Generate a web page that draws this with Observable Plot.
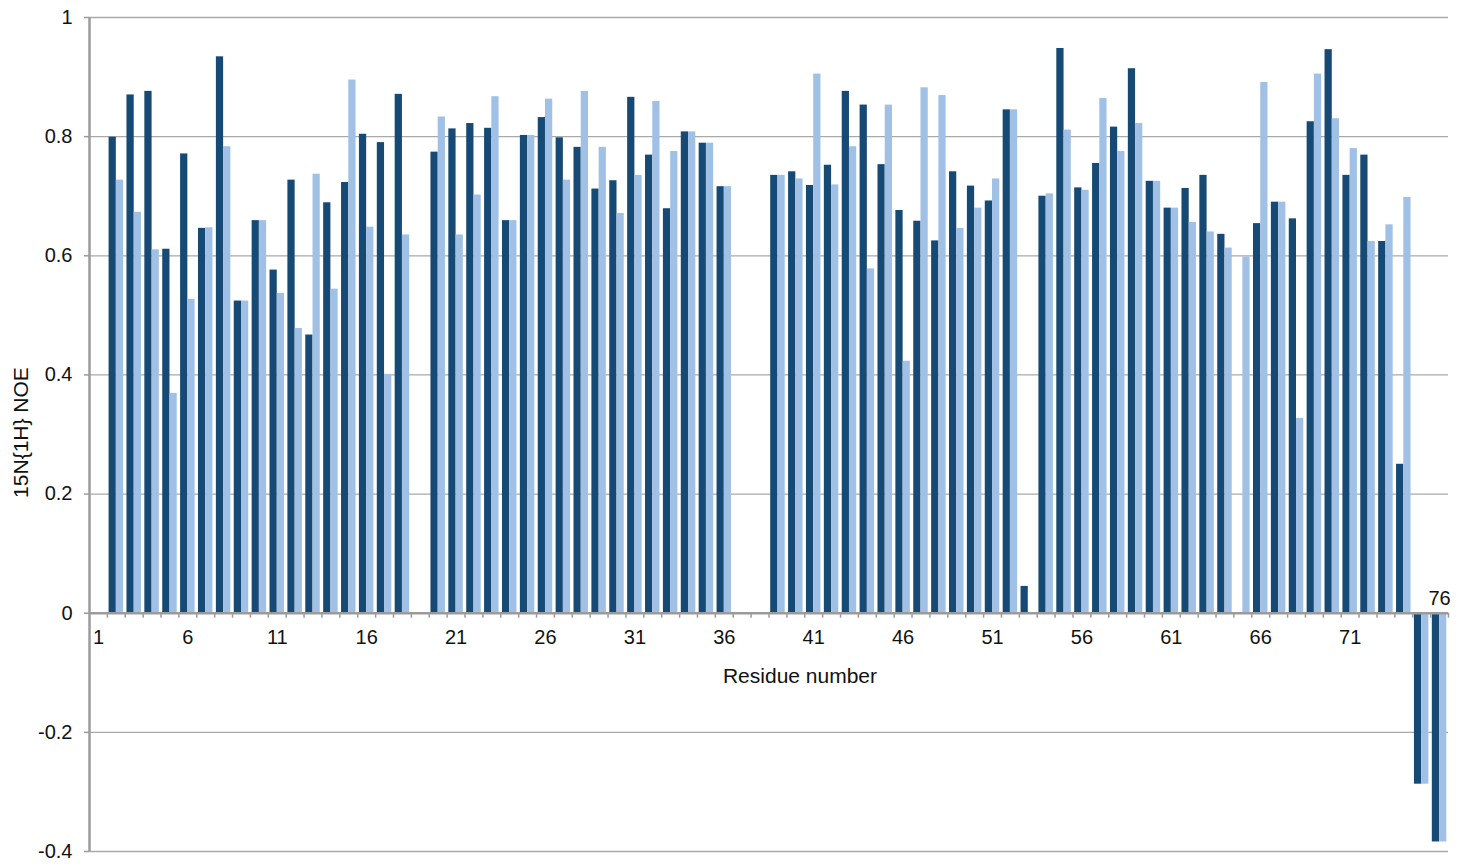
<!DOCTYPE html>
<html>
<head>
<meta charset="utf-8">
<script src="https://cdn.jsdelivr.net/npm/d3@7"></script>
<script src="https://cdn.jsdelivr.net/npm/@observablehq/plot@0.6"></script>
<style>
  html, body { margin: 0; padding: 0; background: #fff; }
  #chart svg { display: block; }
</style>
</head>
<body>
<div id="chart"></div>
<script>
// Residue numbers 1–76
const residues = Array.from({length: 76}, (_, i) => i + 1);

// Heteronuclear NOE, first data set (dark bars); null = not measured
const noeDark = [
  null, 0.799, 0.870, 0.876, 0.611, 0.771, 0.646, 0.934, 0.524, 0.659,
  0.576, 0.727, 0.467, 0.689, 0.723, 0.804, 0.790, 0.871, null, 0.774,
  0.813, 0.822, 0.814, 0.659, 0.802, 0.832, 0.798, 0.782, 0.712, 0.726,
  0.866, 0.769, 0.679, 0.808, 0.789, 0.716, null, null, 0.735, 0.741,
  0.718, 0.752, 0.876, 0.853, 0.753, 0.676, 0.658, 0.625, 0.741, 0.717,
  0.692, 0.845, 0.045, 0.700, 0.948, 0.714, 0.755, 0.816, 0.914, 0.725,
  0.680, 0.713, 0.735, 0.636, null, 0.654, 0.690, 0.662, 0.825, 0.946,
  0.735, 0.769, 0.624, 0.250, -0.287, -0.384
];

// Heteronuclear NOE, second data set (light bars)
const noeLight = [
  null, 0.727, 0.673, 0.610, 0.369, 0.527, 0.647, 0.783, 0.524, 0.659,
  0.537, 0.478, 0.737, 0.544, 0.895, 0.648, 0.401, 0.635, null, 0.833,
  0.635, 0.702, 0.867, 0.659, 0.802, 0.863, 0.727, 0.876, 0.782, 0.671,
  0.735, 0.859, 0.775, 0.808, 0.789, 0.716, null, null, 0.735, 0.729,
  0.905, 0.719, 0.783, 0.578, 0.853, 0.423, 0.882, 0.869, 0.646, 0.680,
  0.729, 0.845, null, 0.704, 0.811, 0.710, 0.864, 0.775, 0.822, 0.725,
  0.680, 0.656, 0.640, 0.613, 0.598, 0.891, 0.690, 0.327, 0.905, 0.830,
  0.780, 0.624, 0.652, 0.698, -0.287, -0.384
];

// Axis ticks and labels
const yTicks = [-0.4, -0.2, 0, 0.2, 0.4, 0.6, 0.8, 1];
const xLabelsBelow = [1, 6, 11, 16, 21, 26, 31, 36, 41, 46, 51, 56, 61, 66, 71];
const xLabelsAbove = [76];
const xTitle = "Residue number";
const yTitle = "15N{1H} NOE";

const colorDark = "#164a74";
const colorLight = "#a0c1e5";
const gridColor = "#a9a9a9";
const axisColor = "#9b9b9b";

const width = 1469, height = 868;
const marginLeft = 89, marginRight = 21, marginTop = 17, marginBottom = 17;
const padInner = 0.19;
const step = (width - marginLeft - marginRight) / residues.length;
const half = step * (1 - padInner) / 2;

const darkRows = residues.map((r, i) => ({res: r, v: noeDark[i]})).filter(d => d.v != null);
const lightRows = residues.map((r, i) => ({res: r, v: noeLight[i]})).filter(d => d.v != null);

const chart = Plot.plot({
  width, height, marginLeft, marginRight, marginTop, marginBottom,
  style: {fontFamily: "'Liberation Sans', Arial, Helvetica, sans-serif", fontSize: "20px", color: "#111"},
  x: {type: "band", domain: residues, paddingInner: padInner, paddingOuter: padInner / 2, axis: null},
  y: {domain: [-0.4, 1], axis: null},
  marks: [
    // horizontal gridlines
    Plot.ruleY(yTicks.filter(t => t !== 0), {stroke: gridColor, strokeWidth: 1.3}),
    // bars
    Plot.barY(darkRows, {x: "res", y: "v", fill: colorDark, insetRight: half}),
    Plot.barY(lightRows, {x: "res", y: "v", fill: colorLight, insetLeft: half}),
    // zero baseline and its category ticks
    Plot.ruleY([0], {stroke: axisColor, strokeWidth: 2.5}),
    Plot.ruleX(residues, {x: d => d, y1: () => 0, y2: () => 0, dx: step / 2, insetBottom: -5, stroke: axisColor, strokeWidth: 1.5}),
    // vertical axis line at the left edge of the first category
    Plot.ruleX([1], {x: d => d, dx: -step / 2, stroke: axisColor, strokeWidth: 2.5}),
    Plot.axisY({ticks: yTicks, tickFormat: d => String(d), tickSize: 5, tickPadding: 12, stroke: axisColor, strokeWidth: 1.5, fill: "#111", fontSize: 20, label: null}),
    // residue labels
    Plot.text(xLabelsBelow, {x: d => d, y: () => 0, dy: 30.5, lineAnchor: "bottom", fontSize: 20, fill: "#111"}),
    Plot.text(xLabelsAbove, {x: d => d, y: () => 0, dy: -8, lineAnchor: "bottom", fontSize: 20, fill: "#111"}),
    // axis titles
    Plot.text([xTitle], {y: () => 0, frameAnchor: "middle", dx: 31, dy: 69.5, lineAnchor: "bottom", fontSize: 21, fill: "#111"}),
    Plot.text([yTitle], {frameAnchor: "left", rotate: -90, dx: -62, dy: -2, lineAnchor: "bottom", textAnchor: "middle", fontSize: 21, fill: "#111"})
  ]
});

document.getElementById("chart").appendChild(chart);
</script>
</body>
</html>
